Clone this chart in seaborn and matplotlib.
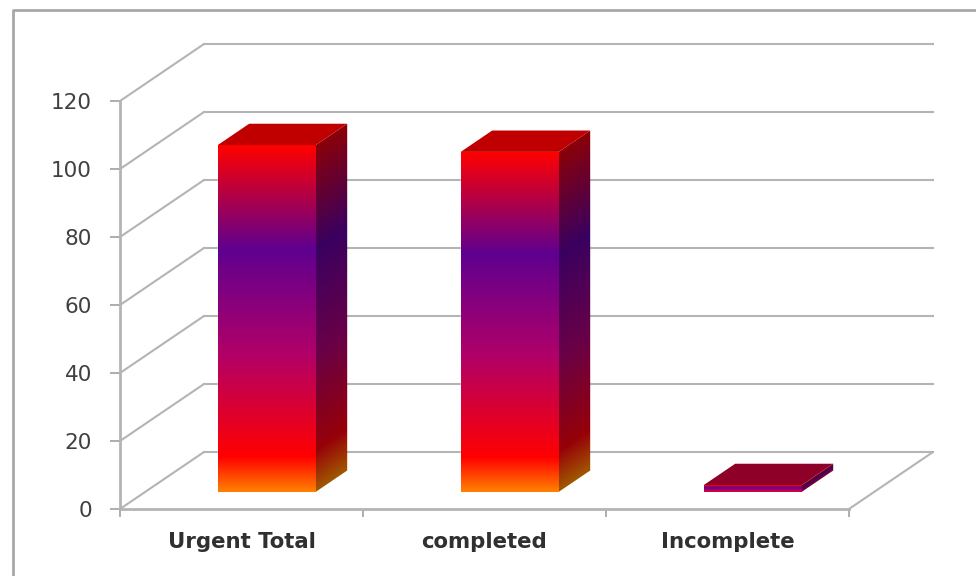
import numpy as np
import pandas as pd
import matplotlib
matplotlib.use("Agg")
import matplotlib.pyplot as plt
from matplotlib.colors import LinearSegmentedColormap
from matplotlib.lines import Line2D
from matplotlib.patches import Polygon
import seaborn as sns

# Chart data
categories = ["Urgent Total", "completed", "Incomplete"]
values = [102, 100, 2]
y_ticks = [0, 20, 40, 60, 80, 100, 120]

# Per-bar styling: lid colour and how far down the colour ramp the bar runs
top_colors = ["#C00000", "#C00000", "#8F0028"]
ramp_ends = [1.0, 1.0, 0.82]

# Oblique projection of the depth axis, in data units per full depth
W, H = 976, 576
AX_L, AX_R, AX_B, AX_T = 120, 849, 509, 101
PX_X = (AX_R - AX_L) / 3
PX_Y = (AX_B - AX_T) / 120
DEPTH_X = 84 / PX_X
DEPTH_Y = 57 / PX_Y
BAR_D0, BAR_D1 = 0.30, 0.675


def project(x, y, d):
    return x + d * DEPTH_X, y + d * DEPTH_Y


front_cmap = LinearSegmentedColormap.from_list(
    "front",
    [(0, "#FF0000"), (0.30, "#5F0090"), (0.60, "#B00068"), (0.90, "#FF0000"), (1, "#FF8000")],
)
side_cmap = LinearSegmentedColormap.from_list(
    "side",
    [(0, "#8A0008"), (0.30, "#3A0060"), (0.60, "#680048"), (0.88, "#960008"), (1, "#A05800")],
)


def shaded_face(ax, x_lo, x_hi, y_base, height, rise, ramp_end, cmap):
    """Paint a parallelogram whose colour ramp runs down its height.

    The lower edge starts at (x_lo, y_base) and climbs by `rise` towards x_hi.
    """
    xs = np.linspace(x_lo, x_hi, 64)
    ys = np.linspace(y_base + height + rise, y_base, 1024)
    edge = y_base + rise * (xs - x_lo) / (x_hi - x_lo)
    ramp = np.clip(1 - (ys[:, None] - edge[None, :]) / height, 0, 1) * ramp_end
    image = ax.imshow(cmap(ramp), extent=[x_lo, x_hi, y_base, y_base + height + rise],
                      origin="upper", aspect="auto", interpolation="bilinear", zorder=4)
    outline = Polygon([(x_lo, y_base), (x_hi, y_base + rise),
                       (x_hi, y_base + rise + height), (x_lo, y_base + height)],
                      closed=True, transform=ax.transData)
    image.set_clip_path(outline)


sns.set_theme(style="white")
plt.rcParams["font.family"] = ["DejaVu Sans"]

fig = plt.figure(figsize=(W / 100, H / 100), dpi=100, facecolor="white")
ax = fig.add_axes([AX_L / W, 1 - AX_B / H, (AX_R - AX_L) / W, (AX_B - AX_T) / H])
df = pd.DataFrame({"category": categories, "value": values})
sns.barplot(data=df, x="category", y="value", order=categories, width=98 / PX_X,
            color="#FF0000", ax=ax, zorder=3)
ax.set_xlabel("")
ax.set_ylabel("")
ax.patch.set_alpha(0)

# Back wall, left wall and floor gridlines
GRID = "#B4B4B4"
x0, x1 = -0.5, 2.5
for t in y_ticks:
    bx0, by = project(x0, t, 1)
    bx1, _ = project(x1, t, 1)
    ax.plot([bx0, bx1], [by, by], color=GRID, lw=1.5, clip_on=False, zorder=1,
            solid_capstyle="projecting")
    ax.plot([x0, bx0], [t, by], color=GRID, lw=1.5, clip_on=False, zorder=1)
rx, ry = project(x1, 0, 1)
ax.plot([x1, rx], [0, ry], color=GRID, lw=1.5, clip_on=False, zorder=1)

# Each bar: seaborn's rectangle moved to its depth, then shaded faces on top of it
for patch, value, top, ramp_end in zip(ax.patches, values, top_colors, ramp_ends):
    left = patch.get_x()
    right = left + patch.get_width()
    px, py = project(left, 0, BAR_D0)
    patch.set_x(px)
    patch.set_y(py)
    patch.set_clip_on(False)

    # Front face, shaded along the bar's own height
    fx1 = project(right, 0, BAR_D0)[0]
    shaded_face(ax, px, fx1, py, value, 0, ramp_end, front_cmap)

    # Side face, the ramp following the slant of the face
    sx1, sy1 = project(right, 0, BAR_D1)
    shaded_face(ax, fx1, sx1, py, value, sy1 - py, ramp_end, side_cmap)

    # Top face
    corners = [project(left, value, BAR_D0), project(right, value, BAR_D0),
               project(right, value, BAR_D1), project(left, value, BAR_D1)]
    ax.add_patch(Polygon(corners, closed=True, facecolor=top, edgecolor="none",
                         clip_on=False, zorder=4))

ax.set_xlim(x0, x1)
ax.set_ylim(0, 120)

# Axes
for name, spine in ax.spines.items():
    spine.set_visible(name in ("left", "bottom"))
    spine.set_color(GRID)
    spine.set_linewidth(2.0)
ax.set_yticks(y_ticks)
ax.set_xticks([-0.5, 0.5, 1.5, 2.5])
ax.set_xticklabels([])
ax.tick_params(axis="x", which="major", length=5.8, width=1.2, color="#A0A0A0", bottom=True)
ax.tick_params(axis="y", which="major", length=7.2, width=1.2, color="#A0A0A0", left=True,
               labelsize=15.5, labelcolor="#404040", pad=13)
for i, name in enumerate(categories):
    ax.text(i, -11.5, name, ha="center", va="baseline", fontsize=15.3, fontweight="bold",
            color="#303030", clip_on=False)

# Outer chart frame, running off the right and bottom of the figure
fig.add_artist(Line2D([13 / W, 13 / W, 1], [0, 1 - 10 / H, 1 - 10 / H], color="#A8A8A8", lw=2))

fig.savefig("out.png", dpi=100)
